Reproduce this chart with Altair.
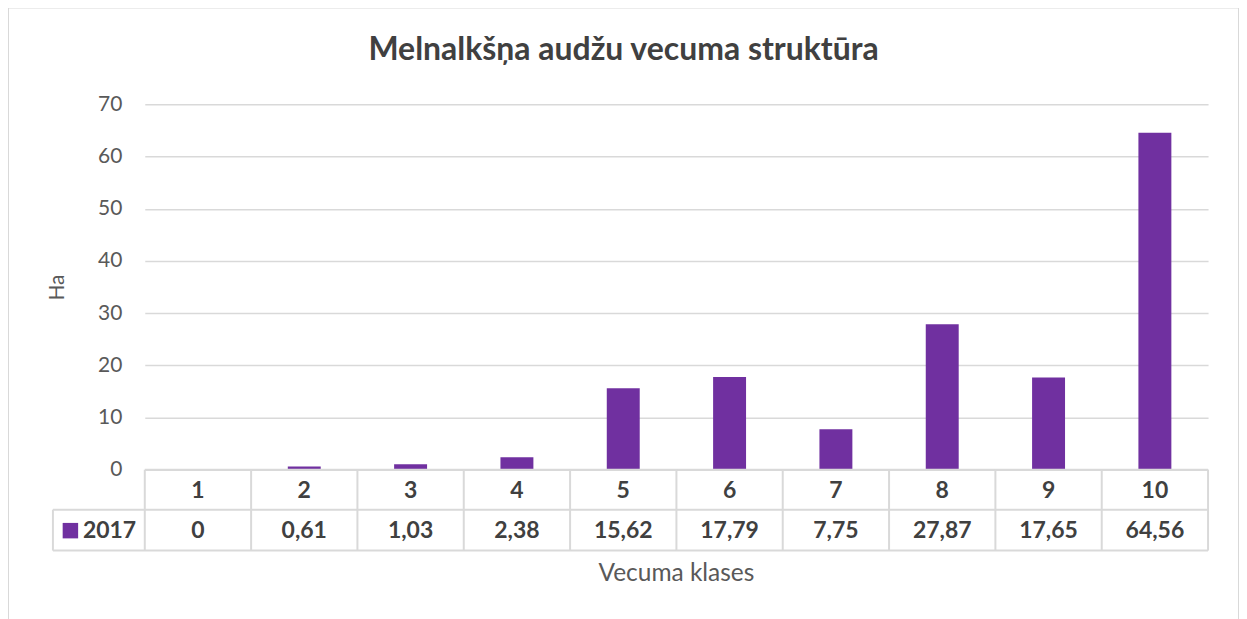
import altair as alt
import pandas as pd

classes = [1, 2, 3, 4, 5, 6, 7, 8, 9, 10]
values_2017 = [0, 0.61, 1.03, 2.38, 15.62, 17.79, 7.75, 27.87, 17.65, 64.56]
series_name = "2017"
title_text = "Melnalkšņa audžu vecuma struktūra"
y_title = "Ha"
x_title = "Vecuma klases"
y_ticks = [0, 10, 20, 30, 40, 50, 60, 70]


def fmt(v):
    if v == 0:
        return "0"
    return f"{v:.2f}".replace(".", ",")


df = pd.DataFrame({
    "cls": classes,
    "val": values_2017,
    "label": [fmt(v) for v in values_2017],
    "cls_label": [str(c) for c in classes],
})
edges = pd.DataFrame({"edge": [c - 0.5 for c in classes] + [classes[-1] + 0.5]})
one = pd.DataFrame({"k": [0]})

W, H = 1065, 366
PURPLE = "#7030A0"
GRID = "#D9D9D9"
DARK = "#404040"
GREY = "#595959"
FONT = "Lato"

xscale = alt.Scale(domain=[0.5, 10.5], nice=False, zero=False, padding=0)
yscale = alt.Scale(domain=[0, 70], nice=False)

border = alt.Chart(one).mark_rect(fillOpacity=0, stroke=GRID, strokeWidth=2).encode(
    x=alt.value(-137), x2=alt.value(1096), y=alt.value(-97), y2=alt.value(560)
)

bars = alt.Chart(df).mark_bar(color=PURPLE, width=33).encode(
    x=alt.X("cls:Q", scale=xscale, axis=None),
    y=alt.Y(
        "val:Q",
        scale=yscale,
        axis=alt.Axis(
            values=y_ticks,
            grid=True,
            gridColor=GRID,
            gridWidth=1.5,
            domain=False,
            ticks=False,
            labelFontSize=21,
            labelColor=GREY,
            labelFont=FONT,
            labelPadding=23,
            title=y_title,
            titleFontSize=21,
            titleFontWeight="normal",
            titleColor=GREY,
            titleFont=FONT,
            titlePadding=30,
        ),
    ),
)

line_style = dict(color=GRID, strokeWidth=2)
h_top = alt.Chart(one).mark_rule(**line_style).encode(
    x=alt.value(0), x2=alt.value(W), y=alt.value(H)
)
h_mid = alt.Chart(one).mark_rule(**line_style).encode(
    x=alt.value(-92), x2=alt.value(W), y=alt.value(H + 40)
)
h_bot = alt.Chart(one).mark_rule(**line_style).encode(
    x=alt.value(-92), x2=alt.value(W), y=alt.value(H + 81)
)
v_left = alt.Chart(one).mark_rule(**line_style).encode(
    x=alt.value(-92), y=alt.value(H + 40), y2=alt.value(H + 81)
)
v_lines = alt.Chart(edges).mark_rule(**line_style).encode(
    x=alt.X("edge:Q", scale=xscale, axis=None),
    y=alt.value(H),
    y2=alt.value(H + 81),
)

text_style = dict(font=FONT, fontSize=23, fontWeight="bold", color=DARK, baseline="middle", align="center")
head_text = alt.Chart(df).mark_text(**text_style).encode(
    x=alt.X("cls:Q", scale=xscale, axis=None),
    y=alt.value(H + 21),
    text="cls_label:N",
)
val_text = alt.Chart(df).mark_text(**text_style).encode(
    x=alt.X("cls:Q", scale=xscale, axis=None),
    y=alt.value(H + 61),
    text="label:N",
)
legend_sq = alt.Chart(one).mark_square(color=PURPLE, size=240, opacity=1).encode(
    x=alt.value(-74.5), y=alt.value(H + 61)
)
legend_txt = alt.Chart(pd.DataFrame({"s": [series_name]})).mark_text(
    font=FONT, fontSize=23, fontWeight="bold", color=DARK, baseline="middle", align="left"
).encode(x=alt.value(-62), y=alt.value(H + 61), text="s:N")

xtitle = alt.Chart(pd.DataFrame({"t": [x_title]})).mark_text(
    font=FONT, fontSize=24.5, color=GREY, baseline="middle", align="center"
).encode(x=alt.value(W / 2), y=alt.value(H + 104), text="t:N")

title = alt.Chart(pd.DataFrame({"t": [title_text]})).mark_text(
    font=FONT, fontSize=32, fontWeight="bold", color=DARK, baseline="middle", align="center"
).encode(x=alt.value(479.5), y=alt.value(-54), text="t:N")

chart = alt.layer(
    border, bars, h_top, h_mid, h_bot, v_left, v_lines,
    head_text, val_text, legend_sq, legend_txt, xtitle, title,
).properties(
    width=W,
    height=H,
    autosize=alt.AutoSizeParams(type="none"),
    padding={"left": 137, "top": 96, "right": 31, "bottom": 149},
).configure_view(stroke=None)

chart.save("out.html", embed_options={"renderer": "svg", "actions": False})
